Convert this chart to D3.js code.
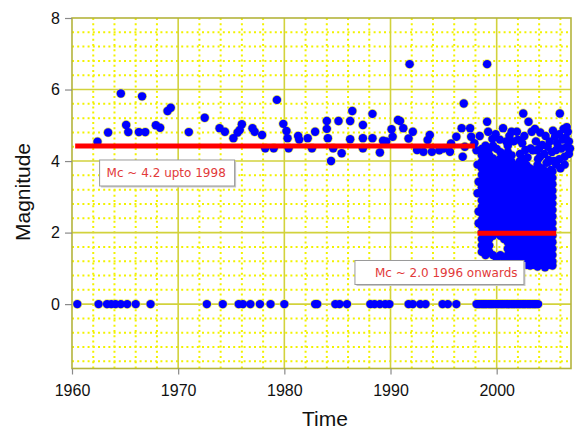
<!DOCTYPE html>
<html>
<head>
<meta charset="utf-8">
<script src="https://cdn.jsdelivr.net/npm/d3@7"></script>
<style>
	body { margin: 0; background: #fff; }
</style>
</head>
<body>
<div id="chart"></div>
<script>
"use strict";

// Size of SVG
const w = 576;
const h = 430;

// Tick labels
const xTicks = [1960, 1970, 1980, 1990, 2000];
const yTicks = [0, 2, 4, 6, 8];

// Events with a magnitude, before the dense network (year, magnitude)
const earlyEvents = [
	[1962.4, 4.54], [1963.4, 4.80], [1964.6, 5.89], [1965.1, 5.01], [1965.3, 4.81],
	[1966.3, 4.81], [1966.9, 4.81], [1966.6, 5.81], [1967.9, 5.00], [1968.3, 4.93],
	[1969.0, 5.40], [1969.3, 5.49], [1971.0, 4.81], [1972.5, 5.21], [1973.9, 4.92],
	[1974.4, 4.82], [1975.2, 4.64], [1975.6, 4.80], [1976.0, 5.03], [1975.8, 4.87],
	[1977.0, 4.92], [1977.2, 4.82], [1977.9, 4.73], [1978.2, 4.36], [1979.0, 4.36],
	[1979.3, 5.71], [1979.9, 5.04], [1980.2, 4.84], [1980.3, 4.64], [1980.4, 4.36],
	[1981.3, 4.70], [1981.4, 4.60], [1982.2, 4.64], [1982.9, 4.82], [1982.6, 4.36],
	[1984.0, 5.12], [1984.0, 4.90], [1984.1, 4.64], [1984.4, 4.00], [1984.6, 4.36],
	[1985.1, 5.12], [1985.4, 4.22], [1986.2, 5.12], [1986.4, 5.40], [1986.2, 4.61],
	[1987.4, 5.01], [1987.4, 4.64], [1987.4, 4.36], [1988.3, 5.32], [1988.3, 4.64],
	[1989.0, 4.24], [1989.3, 4.57], [1989.6, 4.55], [1990.1, 4.89], [1990.2, 4.68],
	[1990.7, 5.15], [1990.9, 5.12], [1991.2, 4.92], [1991.7, 4.63], [1991.8, 6.71],
	[1992.1, 4.82], [1992.5, 4.31], [1993.1, 4.26], [1993.5, 4.59], [1993.7, 4.73],
	[1993.9, 4.26], [1994.6, 4.30], [1995.0, 4.35], [1995.6, 4.26], [1995.7, 4.49],
	[1996.2, 4.68], [1996.7, 4.92], [1996.8, 4.12], [1996.9, 5.61], [1997.0, 4.40],
	[1997.5, 4.92], [1997.6, 4.68], [1997.9, 4.50]
];

// Events after 1998, read column by column: [year, magnitudes]
const lateColumns = [
	[1998.60, [1.46, 1.64, 1.82, 2.00, 2.18, 2.36, 2.54, 2.72, 2.90, 3.08, 3.26, 3.44, 3.62, 3.80, 3.98, 4.16, 4.34]],
	[1998.95, [1.37, 1.55, 1.73, 1.91, 2.09, 2.27, 2.45, 2.63, 2.81, 2.99, 3.17, 3.35, 3.53, 3.71, 3.89, 4.07, 4.25, 4.43]],
	[1999.30, [1.46, 1.64, 1.82, 2.00, 2.18, 2.36, 2.54, 2.72, 2.90, 3.08, 3.26, 3.44, 3.62, 3.80, 3.98, 4.16, 4.34]],
	[1999.65, [1.37, 1.91, 2.09, 2.27, 2.45, 2.63, 2.81, 2.99, 3.17, 3.35, 3.53, 3.71, 3.89, 4.07, 4.43]],
	[2000.00, [1.28, 2.00, 2.18, 2.36, 2.54, 2.72, 2.90, 3.08, 3.26, 3.44, 3.62, 3.80, 3.98, 4.34]],
	[2000.35, [1.37, 1.91, 2.09, 2.27, 2.45, 2.63, 2.81, 2.99, 3.17, 3.35, 3.53, 3.71, 3.89, 4.07, 4.25]],
	[2000.70, [1.28, 1.82, 2.00, 2.18, 2.36, 2.54, 2.72, 2.90, 3.08, 3.26, 3.44, 3.62, 3.80, 3.98, 4.16]],
	[2001.05, [1.19, 1.37, 1.55, 1.73, 1.91, 2.09, 2.27, 2.45, 2.63, 2.81, 2.99, 3.17, 3.35, 3.53, 3.71, 3.89, 4.07, 4.25, 4.43]],
	[2001.40, [1.28, 1.46, 1.64, 1.82, 2.00, 2.18, 2.36, 2.54, 2.72, 2.90, 3.08, 3.26, 3.44, 3.62, 3.80, 3.98, 4.16]],
	[2001.75, [1.19, 1.37, 1.55, 1.73, 1.91, 2.09, 2.27, 2.45, 2.63, 2.81, 2.99, 3.17, 3.35, 3.53, 3.71, 3.89]],
	[2002.10, [1.10, 1.28, 1.46, 1.64, 1.82, 2.00, 2.18, 2.36, 2.54, 2.72, 2.90, 3.08, 3.26, 3.44, 3.62, 3.80]],
	[2002.45, [1.19, 1.37, 1.55, 1.73, 1.91, 2.09, 2.27, 2.45, 2.63, 2.81, 2.99, 3.17, 3.35, 3.53, 3.71, 3.89, 4.07]],
	[2002.80, [1.10, 1.28, 1.46, 1.64, 1.82, 2.00, 2.18, 2.36, 2.54, 2.72, 2.90, 3.08, 3.26, 3.44, 3.62, 3.80]],
	[2003.15, [1.08, 1.19, 1.37, 1.55, 1.73, 1.91, 2.09, 2.27, 2.45, 2.63, 2.81, 2.99, 3.17, 3.35, 3.53, 3.71]],
	[2003.50, [1.10, 1.28, 1.46, 1.64, 1.82, 2.00, 2.18, 2.36, 2.54, 2.72, 2.90, 3.08, 3.26, 3.44]],
	[2003.85, [1.05, 1.19, 1.37, 1.55, 1.73, 1.91, 2.09, 2.27, 2.45, 2.63, 2.81, 2.99, 3.17, 3.35, 3.53, 3.89]],
	[2004.20, [1.10, 1.28, 1.46, 1.64, 1.82, 2.00, 2.18, 2.36, 2.54, 2.72, 2.90, 3.08, 3.26, 3.44, 3.62, 3.80]],
	[2004.55, [1.03, 1.19, 1.37, 1.55, 1.73, 1.91, 2.09, 2.27, 2.45, 2.63, 2.81, 2.99, 3.17, 3.35, 3.53, 3.71]],
	[2004.90, [1.10, 1.28, 1.46, 1.64, 1.82, 2.00, 2.18, 2.36, 2.54, 2.72, 2.90, 3.08, 3.26, 3.44, 3.62, 3.98]],
	[2005.25, [1.08, 1.19, 1.37, 1.55, 1.73, 1.91, 2.09, 2.27, 2.45, 2.63, 2.81, 2.99, 3.17, 3.35, 3.53, 3.71]]
];

// Scattered events after 1998 (year, magnitude)
const lateScatter = [
	[1998.3, 2.26], [1998.3, 2.59], [1998.2, 3.10], [1998.3, 3.42], [1998.2, 3.90],
	[1998.1, 4.30], [1998.4, 4.70], [1999.1, 5.10], [1999.2, 4.82], [1999.1, 6.71],
	[2000.6, 4.92], [2001.4, 4.82], [2001.9, 4.82], [2002.5, 5.33], [2003.0, 5.10],
	[2003.3, 4.82], [2002.7, 4.31], [2002.2, 4.20], [2002.4, 3.95], [2002.8, 3.89],
	[2003.4, 4.30], [2003.7, 4.55], [2003.9, 4.05], [2004.1, 4.12], [2004.4, 3.75],
	[2004.3, 4.45], [2004.6, 4.70], [2004.9, 4.03], [2004.8, 4.40], [2005.2, 4.25],
	[2005.5, 4.68], [2005.6, 4.31], [2005.6, 3.90], [2005.95, 5.33], [2006.2, 4.60],
	[2006.4, 4.12], [2006.6, 4.40], [2006.7, 4.82], [2006.8, 4.20], [2006.3, 4.90],
	[2005.9, 4.05], [2002.0, 3.38], [2003.6, 3.62], [2004.0, 3.70],
	[1999.6, 4.62], [1999.9, 4.75], [2000.3, 4.60], [2000.9, 4.55], [2001.2, 4.70],
	[2001.6, 4.55], [2002.0, 4.60], [2002.2, 4.00], [2002.6, 4.70], [2002.9, 4.10],
	[2003.1, 3.80], [2003.5, 3.75], [2003.2, 4.35], [2003.8, 4.30], [2004.1, 4.80],
	[2004.5, 4.20], [2004.7, 3.95], [2005.0, 4.55], [2005.1, 3.75], [2005.4, 4.00],
	[2005.7, 4.50], [2005.9, 4.75], [2006.1, 4.35], [2006.5, 4.65], [2006.8, 4.55],
	[2006.9, 4.35], [2006.0, 3.80], [2006.4, 3.90], [2004.0, 4.35], [2003.6, 4.90],
	[2005.3, 4.85], [2006.6, 4.95], [2002.4, 4.50]
];

// Events listed with magnitude 0
const zeroYears = [
	1960.5, 1962.5, 1963.3, 1963.7, 1964.1, 1964.6, 1965.2, 1966.0, 1967.4, 1972.7,
	1974.2, 1975.7, 1976.1, 1976.8, 1977.7, 1978.7, 1980.0, 1982.9, 1983.1, 1984.8,
	1985.2, 1985.9, 1988.1, 1988.5, 1989.0, 1989.5, 1989.9, 1991.7, 1992.1, 1992.8,
	1993.3, 1994.9, 1995.4, 1996.2,
	1998.1, 1998.25, 1998.4, 1998.6, 1998.75, 1998.9, 1999.05, 1999.25, 1999.4, 1999.55,
	1999.7, 1999.9, 2000.05, 2000.2, 2000.4, 2000.55, 2000.7, 2000.9, 2001.05, 2001.2,
	2001.4, 2001.55, 2001.7, 2001.9, 2002.05, 2002.2, 2002.4, 2002.55, 2002.7, 2002.9,
	2003.05, 2003.2, 2003.4, 2003.55, 2003.7, 2003.9
];

// Completeness magnitude (from, to, Mc)
const mcLines = [
	[1960.3, 1997.95, 4.42],
	[1998.2, 2005.6, 1.98]
];
const mcLabels = ["Mc ~ 4.2 upto 1998", "Mc ~ 2.0 1996 onwards"];

// All points in one list
const points = [];
earlyEvents.forEach(d => points.push(d));
lateColumns.forEach(c => c[1].forEach(m => points.push([c[0], m])));
lateScatter.forEach(d => points.push(d));
zeroYears.forEach(t => points.push([t, 0]));

const svg = d3.select("#chart")
	.append("svg")
	.attr("width", w)
	.attr("height", h);

// Plot area
const x = d3.scaleLinear().domain([1960, 2007]).range([72, 571]);
const y = d3.scaleLinear().domain([-1.8, 8]).range([368.5, 18]);

svg.append("rect")
	.attr("x", x(1960))
	.attr("y", y(8))
	.attr("width", x(2007) - x(1960))
	.attr("height", y(-1.8) - y(8))
	.attr("fill", "#ffffff");

// Minor grid (dotted yellow)
const minorX = d3.range(1962, 2007, 2).filter(v => v % 10 !== 0);
const minorY = d3.range(-16, 80, 4).map(v => v / 10).filter(v => Math.abs(v % 2) > 0.01);

svg.append("g").selectAll("line")
	.data(minorX)
	.enter()
	.append("line")
	.attr("x1", d => x(d)).attr("x2", d => x(d))
	.attr("y1", y(8)).attr("y2", y(-1.8))
	.attr("stroke", "#f2f200")
	.attr("stroke-width", 2)
	.attr("stroke-dasharray", "2,3.2");

svg.append("g").selectAll("line")
	.data(minorY)
	.enter()
	.append("line")
	.attr("x1", x(1960)).attr("x2", x(2007))
	.attr("y1", d => y(d)).attr("y2", d => y(d))
	.attr("stroke", "#f2f200")
	.attr("stroke-width", 2)
	.attr("stroke-dasharray", "2,3.2");

// Major grid
svg.append("g").selectAll("line")
	.data(xTicks.slice(1))
	.enter()
	.append("line")
	.attr("x1", d => x(d)).attr("x2", d => x(d))
	.attr("y1", y(8)).attr("y2", y(-1.8))
	.attr("stroke", "#d2d23c")
	.attr("stroke-width", 1.6);

svg.append("g").selectAll("line")
	.data(yTicks.slice(0, -1))
	.enter()
	.append("line")
	.attr("x1", x(1960)).attr("x2", x(2007))
	.attr("y1", d => y(d)).attr("y2", d => y(d))
	.attr("stroke", "#d2d23c")
	.attr("stroke-width", 1.6);

// Frame
svg.append("rect")
	.attr("x", x(1960))
	.attr("y", y(8))
	.attr("width", x(2007) - x(1960))
	.attr("height", y(-1.8) - y(8))
	.attr("fill", "none")
	.attr("stroke", "#b4b43c")
	.attr("stroke-width", 1.6);

// Axes
const xAxis = svg.append("g")
	.attr("transform", "translate(0," + y(-1.8) + ")")
	.call(d3.axisBottom(x).tickValues(xTicks).tickFormat(d3.format("d")).tickSize(6).tickPadding(10));

const yAxis = svg.append("g")
	.attr("transform", "translate(" + x(1960) + ",0)")
	.call(d3.axisLeft(y).tickValues(yTicks).tickSize(7).tickPadding(5));

[xAxis, yAxis].forEach(a => {
	a.select(".domain").remove();
	a.selectAll(".tick line").attr("stroke", "#8a8a8a").attr("stroke-width", 1.2);
	a.selectAll("text")
		.attr("fill", "#111")
		.style("font-family", "'Liberation Sans', Arial, sans-serif")
		.style("font-size", "16px");
});

// Points: yellow halo first, blue on top
const dots = svg.append("g");
dots.selectAll(".halo")
	.data(points)
	.enter()
	.append("circle")
	.attr("class", "halo")
	.attr("cx", d => x(d[0]))
	.attr("cy", d => y(d[1]))
	.attr("r", 4.9)
	.attr("fill", "#e9e95a");

dots.selectAll(".dot")
	.data(points)
	.enter()
	.append("circle")
	.attr("class", "dot")
	.attr("cx", d => x(d[0]))
	.attr("cy", d => y(d[1]))
	.attr("r", 4.2)
	.attr("fill", "#0000ff");

// Mc lines
svg.append("g").selectAll("line")
	.data(mcLines)
	.enter()
	.append("line")
	.attr("x1", d => x(d[0]))
	.attr("x2", d => x(d[1]))
	.attr("y1", d => y(d[2]))
	.attr("y2", d => y(d[2]))
	.attr("stroke", "#ff0000")
	.attr("stroke-width", 5);

// Text boxes (top-left year/magnitude, width, height)
const boxes = [
	{ t: 1962.6, m: 4.03, bw: 135, bh: 26, tx: 7 },
	{ t: 1986.65, m: 1.22, bw: 169, bh: 24, tx: 20 }
];

boxes.forEach((b, i) => {
	const g = svg.append("g")
		.attr("transform", "translate(" + x(b.t) + "," + y(b.m) + ")");
	g.append("rect")
		.attr("x", 1.5).attr("y", 1.5)
		.attr("width", b.bw).attr("height", b.bh)
		.attr("fill", "#c8c8c8");
	g.append("rect")
		.attr("width", b.bw).attr("height", b.bh)
		.attr("fill", "#ffffff")
		.attr("stroke", "#9a9a9a")
		.attr("stroke-width", 1);
	g.append("text")
		.attr("x", b.tx)
		.attr("y", b.bh / 2 + 4.5)
		.attr("fill", "#e23a3a")
		.style("font-family", "'DejaVu Sans', Verdana, sans-serif")
		.style("font-size", "12px")
		.text(mcLabels[i]);
});

// Axis titles
svg.append("text")
	.attr("x", 325)
	.attr("y", 426)
	.attr("text-anchor", "middle")
	.attr("fill", "#111")
	.style("font-family", "'Liberation Sans', Arial, sans-serif")
	.style("font-size", "21px")
	.text("Time");

svg.append("text")
	.attr("transform", "translate(30,192) rotate(-90)")
	.attr("text-anchor", "middle")
	.attr("fill", "#111")
	.style("font-family", "'Liberation Sans', Arial, sans-serif")
	.style("font-size", "21px")
	.text("Magnitude");
</script>
</body>
</html>
